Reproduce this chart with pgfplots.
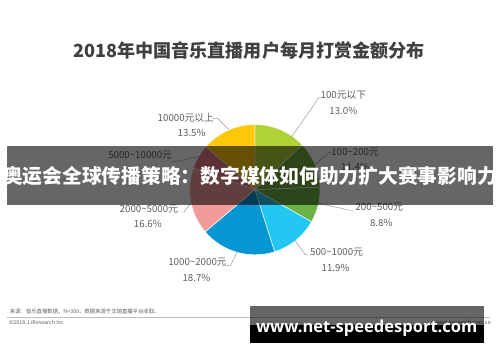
\documentclass[border=0pt]{standalone}
\usepackage{pgfplots}
\pgfplotsset{compat=1.18}
\usepackage{pgfplotstable}
\usepackage{fontspec}
\setmainfont{Noto Sans CJK SC}
\newfontfamily\wmfont{Open Sans}
\definecolor{slice0}{RGB}{176,210,53}
\definecolor{slice1}{RGB}{118,168,62}
\definecolor{slice2}{RGB}{106,178,70}
\definecolor{slice3}{RGB}{35,200,242}
\definecolor{slice4}{RGB}{6,150,210}
\definecolor{slice5}{RGB}{242,155,155}
\definecolor{slice6}{RGB}{232,120,132}
\definecolor{slice7}{RGB}{254,200,10}
\definecolor{titlegray}{RGB}{64,64,64}
\definecolor{labgray}{RGB}{95,95,95}
\definecolor{linegray}{RGB}{150,150,150}

\pgfplotstableread{
idx pct
0 13.0
1 11.4
2 8.8
3 11.9
4 18.7
5 16.6
6 6.1
7 13.5
}\piedata

\begin{document}
\begin{tikzpicture}
\begin{axis}[x=1bp,y=1bp,xmin=0,xmax=500,ymin=0,ymax=362,
  hide axis,scale only axis,clip=false]
\path (axis cs:0,0) rectangle (axis cs:500,362);
% pie slices from the table
\pgfplotstablegetrowsof{\piedata}
\pgfmathtruncatemacro\N{\pgfplotsretval-1}
\gdef\cum{0}
\pgfplotsforeachungrouped \i in {0,...,\N}{%
  \pgfplotstablegetelem{\i}{pct}\of\piedata
  \pgfmathsetmacro\a{90-\cum*3.6}%
  \pgfmathsetmacro\b{90-(\cum+\pgfplotsretval)*3.6}%
  \pgfmathsetmacro\newcum{\cum+\pgfplotsretval}%
  \xdef\cum{\newcum}%
  \edef\temp{\noexpand\fill[fill=slice\i, draw=white, line width=0.5pt] (axis cs:255,167) -- ++(\a:67bp) arc[start angle=\a, end angle=\b, radius=67bp] -- cycle;}%
  \temp
}
% title
\node[titlegray, font=\fontsize{18.6bp}{21bp}\selectfont\bfseries] at (axis cs:249,310) {2018年中国音乐直播用户每月打赏金额分布};
% labels
\tikzset{lab/.style={labgray, font=\fontsize{10bp}{12bp}\selectfont, inner sep=0pt}}
\node[lab] at (axis cs:346,264) {100元以下};
\node[lab] at (axis cs:346,248) {13.0\%};
\node[lab] at (axis cs:184,241) {10000元以上};
\node[lab] at (axis cs:190,225) {13.5\%};
\node[lab] at (axis cs:358,206) {100\textasciitilde200元};
\node[lab] at (axis cs:358,190) {11.4\%};
\node[lab] at (axis cs:137,202) {5000\textasciitilde10000元};
\node[lab] at (axis cs:142,186) {6.1\%};
\node[lab] at (axis cs:383,149) {200\textasciitilde500元};
\node[lab] at (axis cs:385,133) {8.8\%};
\node[lab] at (axis cs:146,147) {2000\textasciitilde5000元};
\node[lab] at (axis cs:145,132) {16.6\%};
\node[lab] at (axis cs:339,103) {500\textasciitilde1000元};
\node[lab] at (axis cs:338,87) {11.9\%};
\node[lab] at (axis cs:196,92) {1000\textasciitilde2000元};
\node[lab] at (axis cs:195,76) {18.7\%};
% leader lines
\tikzset{lead/.style={linegray, line width=0.5pt}}
\draw[lead] (axis cs:292,220) -- (axis cs:321,262) -- (axis cs:324,262);
\draw[lead] (axis cs:212,240) -- (axis cs:217,240) -- (axis cs:228,229);
\draw[lead] (axis cs:316,192) -- (axis cs:331,205) -- (axis cs:334,205);
\draw[lead] (axis cs:169,196) -- (axis cs:174,196) -- (axis cs:197,201);
\draw[lead] (axis cs:320,153) -- (axis cs:352,146) -- (axis cs:356,146);
\draw[lead] (axis cs:177,144) -- (axis cs:182,144) -- (axis cs:189,153);
\draw[lead] (axis cs:296,115) -- (axis cs:307,100) -- (axis cs:310,100);
\draw[lead] (axis cs:226,89) -- (axis cs:230,89) -- (axis cs:237,103);
% footer
\draw[color={rgb,255:red,190;green,190;blue,190}, line width=0.6pt] (axis cs:0,35.5) -- (axis cs:497,35.5);
\node[labgray, anchor=west, font=\fontsize{5.5bp}{6bp}\selectfont, inner sep=0pt] at (axis cs:3,42) {来源：音乐直播数据，N=300，数据来源于艾瑞直播平台收取。};
\node[labgray, anchor=west, font=\fontsize{5.5bp}{6bp}\selectfont, inner sep=0pt] at (axis cs:2,30) {©2018.1 iResearch Inc};
\node[labgray, anchor=east, font=\fontsize{5.5bp}{6bp}\selectfont, inner sep=0pt] at (axis cs:498,30) {www.iresearch.com.cn};
% banner
\fill[black, opacity=0.6] (axis cs:0,151) rectangle (axis cs:500,212);
\node[white, font=\fontsize{20.3bp}{22bp}\selectfont\bfseries] at (axis cs:250,181) {奥运会全球传播策略：数字媒体如何助力扩大赛事影响力};
% watermark
\fill[black, opacity=0.6] (axis cs:250,28) rectangle (axis cs:491,47);
\fill[black] (axis cs:250,9) rectangle (axis cs:491,28);
\node[white, font=\wmfont\fontsize{17bp}{19bp}\selectfont\bfseries] at (axis cs:370,24) {www.net-speedesport.com};
\end{axis}
\end{tikzpicture}
\end{document}
